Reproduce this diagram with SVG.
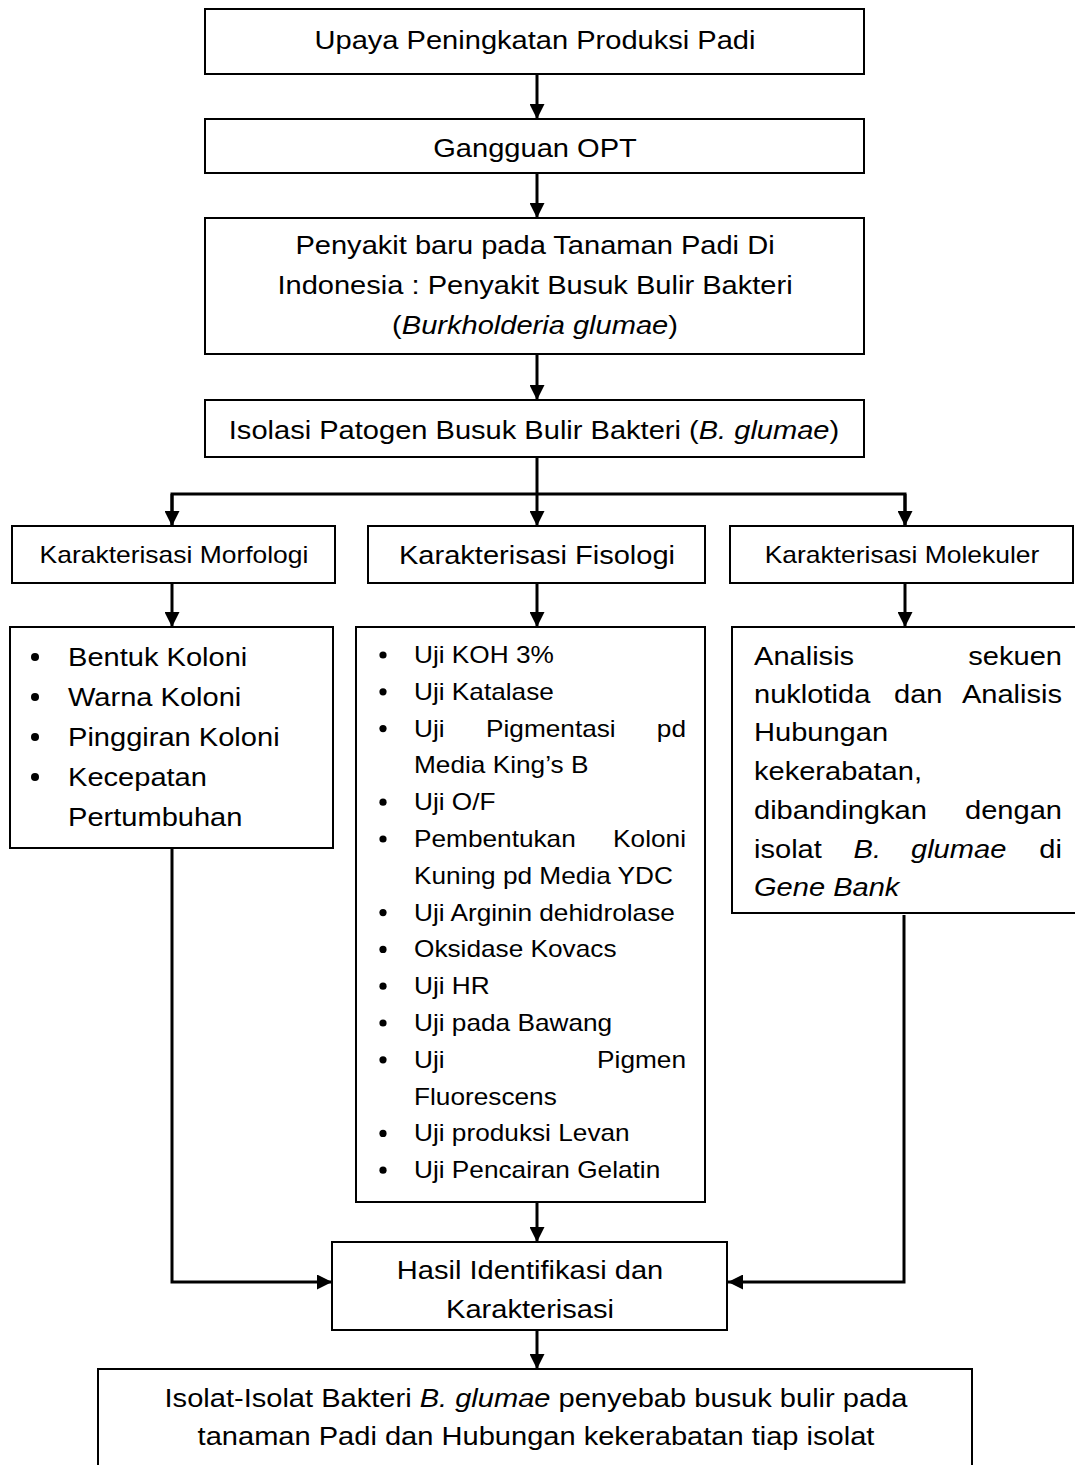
<svg xmlns="http://www.w3.org/2000/svg" width="1075" height="1465" viewBox="0 0 1075 1465">
<style>
.box{fill:#fff;stroke:#000;stroke-width:2}
.con{fill:none;stroke:#000;stroke-width:3}
.t{font-family:"Liberation Sans",Arial,Helvetica,sans-serif;font-size:25.5px;fill:#000}
.s23{font-size:23px}
.s21{font-size:23.2px}
.c{text-anchor:middle}
.e{text-anchor:end}
.i{font-style:italic}
</style>
<defs>
<marker id="ah" markerUnits="userSpaceOnUse" markerWidth="15" markerHeight="15" refX="15" refY="7.5" orient="auto">
<path d="M0,0 L15,7.5 L0,15 Z" fill="#000"/>
</marker>
</defs>
<rect width="1075" height="1465" fill="#fff"/>

<g id="connectors">
<line class="con" x1="537" y1="74" x2="537" y2="119" marker-end="url(#ah)"/>
<line class="con" x1="537" y1="173" x2="537" y2="218" marker-end="url(#ah)"/>
<line class="con" x1="537" y1="354" x2="537" y2="400" marker-end="url(#ah)"/>
<line class="con" x1="537" y1="457" x2="537" y2="526" marker-end="url(#ah)"/>
<polyline class="con" points="172,526 172,494 905,494 905,526"/>
<line class="con" x1="172" y1="494" x2="172" y2="526" marker-end="url(#ah)"/>
<line class="con" x1="905" y1="494" x2="905" y2="526" marker-end="url(#ah)"/>
<line class="con" x1="172" y1="583" x2="172" y2="627" marker-end="url(#ah)"/>
<line class="con" x1="537" y1="583" x2="537" y2="627" marker-end="url(#ah)"/>
<line class="con" x1="905" y1="583" x2="905" y2="627" marker-end="url(#ah)"/>
<polyline class="con" points="172,849 172,1282 332,1282" marker-end="url(#ah)"/>
<polyline class="con" points="904,915 904,1282 728,1282" marker-end="url(#ah)"/>
<line class="con" x1="537" y1="1202" x2="537" y2="1242" marker-end="url(#ah)"/>
<line class="con" x1="537" y1="1330" x2="537" y2="1369" marker-end="url(#ah)"/>
</g>

<g id="n1">
<rect class="box" x="205" y="9" width="659" height="65"/>
<text class="t c" transform="translate(535 49) scale(1.14 1)">Upaya Peningkatan Produksi Padi</text>
</g>

<g id="n2">
<rect class="box" x="205" y="119" width="659" height="54"/>
<text class="t c" transform="translate(535 157) scale(1.14 1)">Gangguan OPT</text>
</g>

<g id="n3">
<rect class="box" x="205" y="218" width="659" height="136"/>
<text class="t c" transform="translate(535 254) scale(1.14 1)">Penyakit baru pada Tanaman Padi Di</text>
<text class="t c" transform="translate(535 294) scale(1.14 1)">Indonesia : Penyakit Busuk Bulir Bakteri</text>
<text class="t c" transform="translate(535 334) scale(1.14 1)">(<tspan class="i">Burkholderia glumae</tspan>)</text>
</g>

<g id="n4">
<rect class="box" x="205" y="400" width="659" height="57"/>
<text class="t c" transform="translate(534 439) scale(1.14 1)">Isolasi Patogen Busuk Bulir Bakteri (<tspan class="i">B. glumae</tspan>)</text>
</g>

<g id="n5">
<rect class="box" x="12" y="526" width="323" height="57"/>
<text class="t s21 c" transform="translate(174 562.5) scale(1.14 1)">Karakterisasi Morfologi</text>
</g>

<g id="n6">
<rect class="box" x="368" y="526" width="337" height="57"/>
<text class="t c" transform="translate(537 563.5) scale(1.14 1)">Karakterisasi Fisologi</text>
</g>

<g id="n7">
<rect class="box" x="730" y="526" width="343" height="57"/>
<text class="t s21 c" transform="translate(902 562.5) scale(1.14 1)">Karakterisasi Molekuler</text>
</g>

<g id="n8">
<rect class="box" x="10" y="627" width="323" height="221"/>
<circle cx="35" cy="657" r="4"/>
<circle cx="35" cy="697" r="4"/>
<circle cx="35" cy="737" r="4"/>
<circle cx="35" cy="777" r="4"/>
<text class="t" transform="translate(68 666) scale(1.14 1)">Bentuk Koloni</text>
<text class="t" transform="translate(68 706) scale(1.14 1)">Warna Koloni</text>
<text class="t" transform="translate(68 746) scale(1.14 1)">Pinggiran Koloni</text>
<text class="t" transform="translate(68 786) scale(1.14 1)">Kecepatan</text>
<text class="t" transform="translate(68 826) scale(1.14 1)">Pertumbuhan</text>
</g>

<g id="n9">
<rect class="box" x="356" y="627" width="349" height="575"/>
<circle cx="383" cy="655" r="3.6"/>
<circle cx="383" cy="691.8" r="3.6"/>
<circle cx="383" cy="728.6" r="3.6"/>
<circle cx="383" cy="802.2" r="3.6"/>
<circle cx="383" cy="839" r="3.6"/>
<circle cx="383" cy="912.6" r="3.6"/>
<circle cx="383" cy="949.4" r="3.6"/>
<circle cx="383" cy="986.2" r="3.6"/>
<circle cx="383" cy="1023" r="3.6"/>
<circle cx="383" cy="1059.8" r="3.6"/>
<circle cx="383" cy="1133.4" r="3.6"/>
<circle cx="383" cy="1170.2" r="3.6"/>
<text class="t s23" transform="translate(414 663) scale(1.14 1)">Uji KOH 3%</text>
<text class="t s23" transform="translate(414 699.8) scale(1.14 1)">Uji Katalase</text>
<text class="t s23" transform="translate(414 736.6) scale(1.14 1)">Uji</text>
<text class="t s23" transform="translate(486 736.6) scale(1.14 1)">Pigmentasi</text>
<text class="t s23 e" transform="translate(686 736.6) scale(1.14 1)">pd</text>
<text class="t s23" transform="translate(414 773.4) scale(1.14 1)">Media King’s B</text>
<text class="t s23" transform="translate(414 810.2) scale(1.14 1)">Uji O/F</text>
<text class="t s23" transform="translate(414 847) scale(1.14 1)">Pembentukan</text>
<text class="t s23 e" transform="translate(686 847) scale(1.14 1)">Koloni</text>
<text class="t s23" transform="translate(414 883.8) scale(1.14 1)">Kuning pd Media YDC</text>
<text class="t s23" transform="translate(414 920.6) scale(1.14 1)">Uji Arginin dehidrolase</text>
<text class="t s23" transform="translate(414 957.4) scale(1.14 1)">Oksidase Kovacs</text>
<text class="t s23" transform="translate(414 994.2) scale(1.14 1)">Uji HR</text>
<text class="t s23" transform="translate(414 1031) scale(1.14 1)">Uji pada Bawang</text>
<text class="t s23" transform="translate(414 1067.8) scale(1.14 1)">Uji</text>
<text class="t s23 e" transform="translate(686 1067.8) scale(1.14 1)">Pigmen</text>
<text class="t s23" transform="translate(414 1104.6) scale(1.14 1)">Fluorescens</text>
<text class="t s23" transform="translate(414 1141.4) scale(1.14 1)">Uji produksi Levan</text>
<text class="t s23" transform="translate(414 1178.2) scale(1.14 1)">Uji Pencairan Gelatin</text>
</g>

<g id="n10">
<rect class="box" x="732" y="627" width="350" height="286"/>
<text class="t" transform="translate(754 665) scale(1.14 1)">Analisis</text>
<text class="t e" transform="translate(1062 665) scale(1.14 1)">sekuen</text>
<text class="t" transform="translate(754 703) scale(1.14 1)">nuklotida</text>
<text class="t" transform="translate(894 703) scale(1.14 1)">dan</text>
<text class="t e" transform="translate(1062 703) scale(1.14 1)">Analisis</text>
<text class="t" transform="translate(754 741) scale(1.14 1)">Hubungan</text>
<text class="t" transform="translate(754 780) scale(1.14 1)">kekerabatan,</text>
<text class="t" transform="translate(754 819) scale(1.14 1)">dibandingkan</text>
<text class="t e" transform="translate(1062 819) scale(1.14 1)">dengan</text>
<text class="t" transform="translate(754 858) scale(1.14 1)">isolat</text>
<text class="t i" transform="translate(853.5 858) scale(1.14 1)">B.</text>
<text class="t i" transform="translate(911 858) scale(1.14 1)">glumae</text>
<text class="t e" transform="translate(1062 858) scale(1.14 1)">di</text>
<text class="t i" transform="translate(754 896) scale(1.14 1)">Gene Bank</text>
</g>

<g id="n11">
<rect class="box" x="332" y="1242" width="395" height="88"/>
<text class="t c" transform="translate(530 1279) scale(1.14 1)">Hasil Identifikasi dan</text>
<text class="t c" transform="translate(530 1318) scale(1.14 1)">Karakterisasi</text>
</g>

<g id="n12">
<rect class="box" x="98" y="1369" width="874" height="110"/>
<text class="t c" transform="translate(536 1407) scale(1.14 1)">Isolat-Isolat Bakteri <tspan class="i">B. glumae</tspan> penyebab busuk bulir pada</text>
<text class="t c" transform="translate(536 1445) scale(1.14 1)">tanaman Padi dan Hubungan kekerabatan tiap isolat</text>
</g>
</svg>
